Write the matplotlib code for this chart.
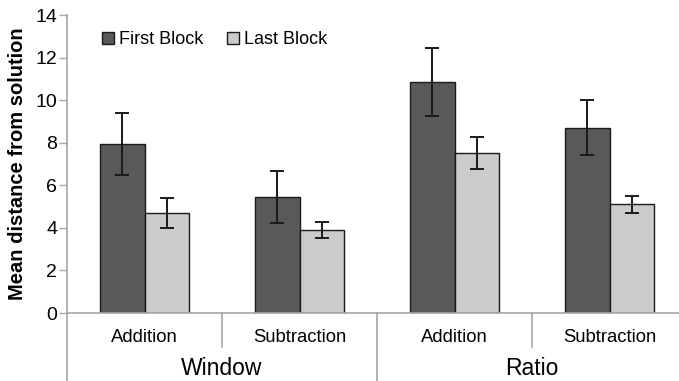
import matplotlib.pyplot as plt
import numpy as np
from matplotlib.patches import Patch

plt.rcParams['font.family'] = ['Liberation Sans', 'DejaVu Sans']

# data
conditions = ["Addition", "Subtraction", "Addition", "Subtraction"]
groups = ["Window", "Ratio"]
first_block = [7.94, 5.45, 10.87, 8.70]
first_err = [1.45, 1.21, 1.60, 1.30]
last_block = [4.71, 3.90, 7.50, 5.10]
last_err = [0.70, 0.37, 0.75, 0.41]

axis_gray = "#a6a6a6"

fig = plt.figure(figsize=(6.79, 3.81), dpi=100)
ax = fig.add_axes([67/679, 68/381, 620/679, 298/381])

x = np.arange(len(conditions))
w = 0.285
ax.bar(x - w/2, first_block, w, color="#595959", edgecolor="#1a1a1a", linewidth=1,
       yerr=first_err, capsize=5, error_kw=dict(elinewidth=1.4, capthick=1.4, ecolor="#1a1a1a"),
       label="First Block")
ax.bar(x + w/2, last_block, w, color="#cbcbcb", edgecolor="#1a1a1a", linewidth=1,
       yerr=last_err, capsize=5, error_kw=dict(elinewidth=1.4, capthick=1.4, ecolor="#1a1a1a"),
       label="Last Block")

ax.set_xlim(-0.5, 3.5)
ax.set_ylim(0, 14)
ax.set_yticks(range(0, 15, 2))
ax.tick_params(axis='y', labelsize=14, length=6, color=axis_gray, width=1, pad=1)
ax.set_xticks([])
for s in ["top", "right"]:
    ax.spines[s].set_visible(False)
ax.spines["left"].set_color(axis_gray)
ax.spines["bottom"].set_color(axis_gray)
ax.spines["left"].set_linewidth(1.2)
ax.spines["bottom"].set_linewidth(1.2)

ax.set_ylabel("Mean distance from solution", fontsize=14.5, fontweight="bold", labelpad=6)

# category labels and separators below the axis
trans = ax.get_xaxis_transform()
for i, c in enumerate(conditions):
    ax.text(i, -0.081, c, transform=trans, ha="center", va="center", fontsize=13.3)
for gi, g in enumerate(groups):
    ax.text(2*gi + 0.5, -0.185, g, transform=trans, ha="center", va="center", fontsize=16.5)
for xs, yb in [(-0.5, -0.23), (0.5, -0.114), (1.5, -0.23), (2.5, -0.114)]:
    ax.plot([xs, xs], [0, yb], transform=trans, color=axis_gray, lw=1.2, clip_on=False)

handles = [Patch(facecolor="#595959", edgecolor="#1a1a1a"),
           Patch(facecolor="#cbcbcb", edgecolor="#1a1a1a")]
ax.legend(handles, ["First Block", "Last Block"], ncol=2, frameon=False, fontsize=13,
          loc="upper left", bbox_to_anchor=(0.03, 1.0), handlelength=0.65, handleheight=0.65,
          handletextpad=0.3, columnspacing=1.3)

fig.savefig("out.png", dpi=100)
